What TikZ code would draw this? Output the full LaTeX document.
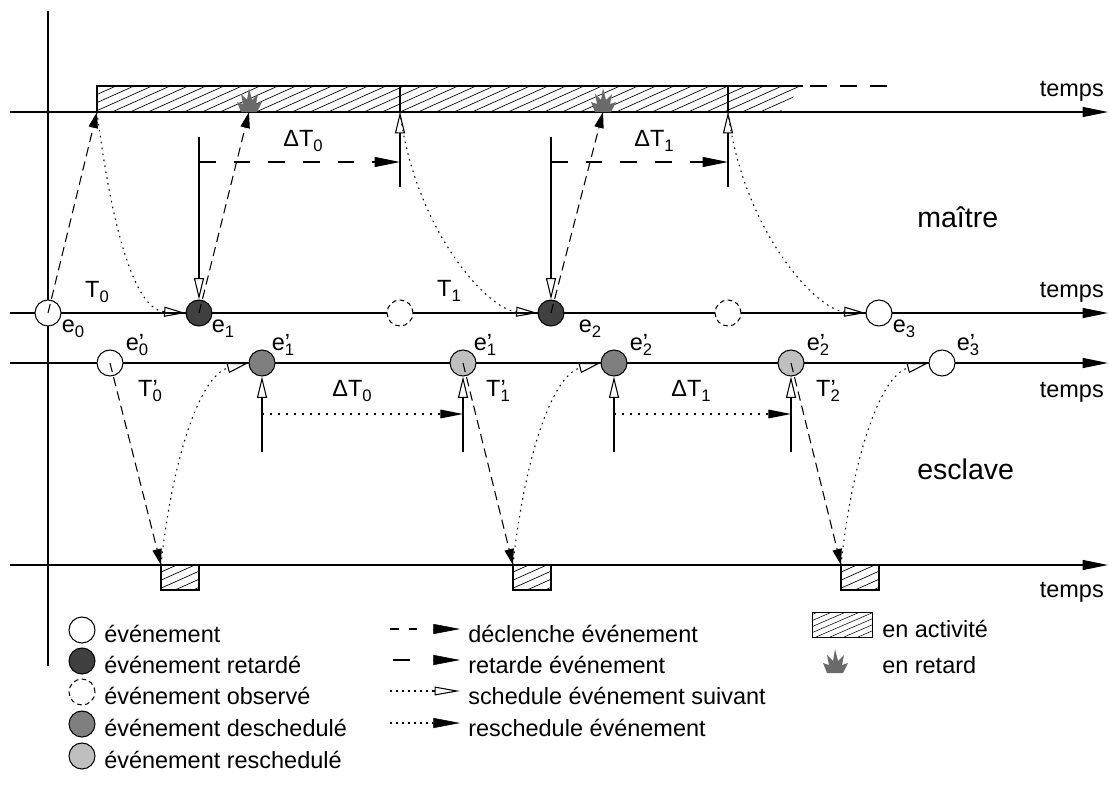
\documentclass[tikz,border=0pt]{standalone}
\usepackage{fontspec}
\setmainfont{Liberation Sans}
\usetikzlibrary{arrows.meta}
\definecolor{evdark}{HTML}{404040}
\definecolor{evmid}{HTML}{7F7F7F}
\definecolor{evlight}{HTML}{BFBFBF}
\definecolor{burstc}{HTML}{6A6A6A}
\newcommand\sbs[1]{\raisebox{-0.2em}{\fontsize{12.5pt}{14pt}\selectfont #1}}
\newcommand\sbp[1]{\rlap{’}\raisebox{-0.2em}{\fontsize{12.5pt}{14pt}\selectfont #1}}
\tikzset{
  burst/.pic={\fill[burstc] (-8,0) -- (-12,-10) -- (-6,-8) -- (-8,-18) -- (-2,-12) -- (0,-24) -- (3,-12) -- (9,-18) -- (7,-8) -- (13,-10) -- (8,0) -- cycle;},
  txt/.style={font=\fontsize{17.6pt}{21pt}\selectfont, inner sep=0pt},
  bigtxt/.style={font=\fontsize{21.4pt}{25pt}\selectfont, inner sep=0pt},
  axisline/.style={line width=0.9pt, -{Triangle[length=19pt,width=7.5pt]}},
  plain/.style={line width=0.8pt},
  ev/.style={circle, draw, line width=0.8pt, minimum size=19.5pt, inner sep=0pt, fill=white},
  obs/.style={ev, dash pattern=on 3.5pt off 2.5pt},
  decl/.style={line width=0.8pt, dash pattern=on 7pt off 4pt, -{Triangle[length=12pt,width=7pt]}},
  retard/.style={line width=0.8pt, -{Triangle[open,length=16pt,width=7.5pt]}},
  longdash/.style={line width=0.8pt, dash pattern=on 12.5pt off 13.5pt, -{Triangle[length=19pt,width=7.5pt]}},
  sched/.style={line width=0.8pt, dash pattern=on 1.2pt off 3.3pt, -{Triangle[open,length=16pt,width=7.5pt]}},
  resched/.style={line width=0.8pt, dash pattern=on 1.5pt off 4.5pt, -{Triangle[length=17pt,width=6.5pt]}},
  hatch/.style={line width=0.5pt},
}
\begin{document}
\begin{tikzpicture}[x=0.75pt,y=-0.75pt]
\useasboundingbox (0,0) rectangle (1110,796);

% axes
\coordinate (v0) at (48,11); \coordinate (v1) at (48,666);
\draw[line width=0.9pt] (v0) -- (v1);
\foreach \yy/\nm in {112/ta,313/tm,363/ts,565/tb}{
  \coordinate (\nm s) at (10,\yy); \coordinate (\nm e) at (1108,\yy);
  \draw[axisline] (\nm s) -- (\nm e);
}

% top activity bar
\begin{scope}
  \clip (97,86) -- (803,86) -- (780,112) -- (97,112) -- cycle;
  \foreach \k in {0,...,46}{\draw[hatch] ({40+18*\k},112) -- ++(58,-26);}
\end{scope}
\draw[plain] (97,112) -- (97,86) -- (803,86);
\draw[plain] (400,86) -- (400,112);
\draw[plain] (728,86) -- (728,112);
\draw[plain, dash pattern=on 12.75pt off 9.75pt] (810,86) -- (892,86);

% bottom activity boxes
\foreach \bx in {161,513,841}{
  \begin{scope}
    \clip (\bx,565) rectangle ++(38,25);
    \foreach \k in {0,...,6}{\draw[hatch] ({\bx-58+18*\k},590) -- ++(58,-26);}
  \end{scope}
  \draw[plain] (\bx,565) rectangle ++(38,25);
}

% bursts
\pic at (249,112) {burst};
\pic at (603,112) {burst};

% master events
\node[ev] (e0) at (48,313) {};
\node[ev, fill=evdark] (e1) at (199,313) {};
\node[obs] (o1) at (400,313) {};
\node[ev, fill=evdark] (e2) at (551,313) {};
\node[obs] (o2) at (728,313) {};
\node[ev] (e3) at (879,313) {};
% slave events
\node[ev] (s0) at (110,363) {};
\node[ev, fill=evmid] (s1) at (262,363) {};
\node[ev, fill=evlight] (s1r) at (463,363) {};
\node[ev, fill=evmid] (s2) at (614,363) {};
\node[ev, fill=evlight] (s2r) at (791,363) {};
\node[ev] (s3) at (942,363) {};

% coordinates on the top bar
\coordinate (b0) at (97,112);
\coordinate (b1) at (400,112);
\coordinate (b2) at (728,112);
\coordinate (k1) at (249,112);
\coordinate (k2) at (603,112);

% trigger arrows (master)
\draw[decl] (e0.center) -- (b0);
\draw[decl] (e1.center) -- (k1);
\draw[decl] (e2.center) -- (k2);

% schedule curves (master)
\draw[sched] (b0) .. controls (112,230) and (135,310) .. (e1.west);
\draw[sched] (b1) .. controls (415,230) and (488,310) .. (e2.west);
\draw[sched] (b2) .. controls (743,230) and (816,310) .. (e3.west);

% delay arrows (master)
\coordinate (r1) at (199,137); \coordinate (r2) at (551,137);
\draw[retard] (r1) -- (e1.north);
\draw[retard] (r2) -- (e2.north);
\coordinate (u1) at (400,187); \coordinate (u2) at (728,187);
\draw[retard] (u1) -- (b1);
\draw[retard] (u2) -- (b2);
\coordinate (h1s) at (199,162); \coordinate (h1e) at (400,162);
\coordinate (h2s) at (551,162); \coordinate (h2e) at (728,162);
\draw[longdash] (h1s) -- (h1e);
\draw[longdash] (h2s) -- (h2e);

% slave
\coordinate (q0) at (161,565); \coordinate (q1) at (513,565); \coordinate (q2) at (841,565);
\draw[decl] (s0.center) -- (q0);
\draw[decl] (s1r.center) -- (q1);
\draw[decl] (s2r.center) -- (q2);
\draw[sched] (q0) .. controls (172,460) and (200,375) .. (s1.west);
\draw[sched] (q1) .. controls (524,460) and (552,375) .. (s2.west);
\draw[sched] (q2) .. controls (852,460) and (880,375) .. (s3.west);
\coordinate (w1) at (262,452); \coordinate (w2) at (463,452);
\coordinate (w3) at (614,452); \coordinate (w4) at (791,452);
\draw[retard] (w1) -- (s1.south);
\draw[retard] (w2) -- (s1r.south);
\draw[retard] (w3) -- (s2.south);
\draw[retard] (w4) -- (s2r.south);
\coordinate (d1s) at (262,414); \coordinate (d1e) at (463,414);
\coordinate (d2s) at (614,414); \coordinate (d2e) at (791,414);
\draw[resched] (d1s) -- (d1e);
\draw[resched] (d2s) -- (d2e);

% labels
\node[txt] (lT0) at (97,292) {T\sbs{0}};
\node[txt] (lT1) at (449,291) {T\sbs{1}};
\node[txt] (lD0) at (303,141) {ΔT\sbs{0}};
\node[txt] (lD1) at (654,141) {ΔT\sbs{1}};
\node[txt] (le0) at (73,329) {e\sbs{0}};
\node[txt] (le1) at (223,329) {e\sbs{1}};
\node[txt] (le2) at (590,329) {e\sbs{2}};
\node[txt] (le3) at (904,329) {e\sbs{3}};
\node[txt] (ls0) at (137,345) {e\sbp{0}};
\node[txt] (ls1) at (283,345) {e\sbp{1}};
\node[txt] (ls1r) at (485,345) {e\sbp{1}};
\node[txt] (ls2) at (641,345) {e\sbp{2}};
\node[txt] (ls2r) at (818,345) {e\sbp{2}};
\node[txt] (ls3) at (968,345) {e\sbp{3}};
\node[txt] (lt0) at (150,391) {T\sbp{0}};
\node[txt] (lt1) at (498,391) {T\sbp{1}};
\node[txt] (lt2) at (828,391) {T\sbp{2}};
\node[txt] (lE0) at (352,391) {ΔT\sbs{0}};
\node[txt] (lE1) at (691,391) {ΔT\sbs{1}};
\node[txt, anchor=east] (tp0) at (1104,91) {temps};
\node[txt, anchor=east] (tp1) at (1104,292) {temps};
\node[txt, anchor=east] (tp2) at (1104,392) {temps};
\node[txt, anchor=east] (tp3) at (1104,592) {temps};
\node[bigtxt, anchor=west] (maitre) at (917,217) {maître};
\node[bigtxt, anchor=west] (esclave) at (917,469) {esclave};

% legend left column
\node[ev] (g1) at (82,630) {};
\node[ev, fill=evdark] (g2) at (82,661) {};
\node[obs] (g3) at (82,692) {};
\node[ev, fill=evmid] (g4) at (82,724) {};
\node[ev, fill=evlight] (g5) at (82,756) {};
\node[txt, anchor=base west] (gt1) at (104,642) {événement};
\node[txt, anchor=base west] (gt2) at (104,673) {événement retardé};
\node[txt, anchor=base west] (gt3) at (104,704) {événement observé};
\node[txt, anchor=base west] (gt4) at (104,736) {événement deschedulé};
\node[txt, anchor=base west] (gt5) at (104,768) {événement reschedulé};

% legend middle column
\draw[plain, dash pattern=on 6.5pt off 7.5pt] (390,629) -- (422,629);
\draw[-{Triangle[length=20pt,width=7.5pt]}] (433,629) -- (460,629);
\draw[plain] (393,660) -- (410,660);
\draw[-{Triangle[length=20pt,width=7.5pt]}] (433,660) -- (460,660);
\draw[plain, dash pattern=on 1.2pt off 3.3pt] (390,691) -- (433,691);
\draw[line width=0.8pt, -{Triangle[open,length=19pt,width=6.5pt]}] (433,691) -- (460,691);
\draw[plain, dash pattern=on 1.2pt off 3.3pt] (390,723) -- (433,723);
\draw[-{Triangle[length=20pt,width=7.5pt]}] (433,723) -- (460,723);
\node[txt, anchor=base west] (mt1) at (468,642) {déclenche événement};
\node[txt, anchor=base west] (mt2) at (468,673) {retarde événement};
\node[txt, anchor=base west] (mt3) at (468,704) {schedule événement suivant};
\node[txt, anchor=base west] (mt4) at (468,736) {reschedule événement};

% legend right column
\begin{scope}
  \clip (812,612) rectangle (872,637);
  \foreach \k in {0,...,8}{\draw[line width=0.4pt] ({760+14*\k},637) -- ++(58,-25);}
\end{scope}
\draw[line width=0.6pt] (812,612) rectangle (872,637);
\pic at (835,673) {burst};
\node[txt, anchor=base west] (rt1) at (882,637) {en activité};
\node[txt, anchor=base west] (rt2) at (882,673) {en retard};
\end{tikzpicture}
\end{document}
